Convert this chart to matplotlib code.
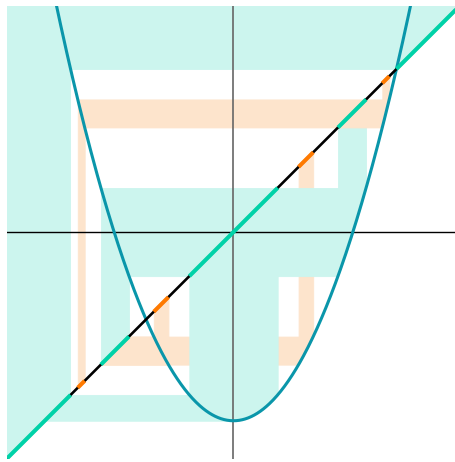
import matplotlib
matplotlib.use("Agg")
import matplotlib.pyplot as plt
import numpy as np

# map f(x) = x^2 + c and the intervals that leave [-beta, beta]
c = -2.5
view = (-3, 3)
beta = 2.158
escape_cyan = [(-0.585, 0.585), (-1.756, -1.384), (1.384, 1.756)]
escape_peach = [(-2.063, -1.971), (-1.056, -0.862), (0.862, 1.056), (1.971, 2.063)]

cyan = "#ccf5ee"
peach = "#fde4cc"
teal = "#0a96aa"
green = "#00d2a8"
orange = "#ff7a00"


def f(x):
    return x ** 2 + c


def vertical_leg(ax, a, b, color, z):
    xs = np.linspace(a, b, 300)
    ax.fill_between(xs, xs, f(xs), color=color, lw=0.6, zorder=z)


def horizontal_leg(ax, a, b, color, z):
    # from graph back to the diagonal, y runs over f([a, b])
    ends = [f(a), f(b)]
    lo = c if a < 0 < b else min(ends)
    hi = max(ends)
    ys = np.linspace(lo, min(hi, view[1]), 300)
    side = 1 if b > 0 else -1
    ax.fill_betweenx(ys, ys, side * np.sqrt(ys - c), color=color, lw=0.6, zorder=z)


fig = plt.figure(figsize=(4.56, 4.62), dpi=100)
ax = fig.add_axes([7 / 456, 3.5 / 462, 453 / 456, 453 / 462])
ax.set_xlim(*view)
ax.set_ylim(*view)
ax.axis("off")

# level-2 vertical legs sit under the peach
for a, b in escape_cyan[1:]:
    vertical_leg(ax, a, b, cyan, 1)

for a, b in escape_peach:
    vertical_leg(ax, a, b, peach, 2)
    horizontal_leg(ax, a, b, peach, 2)

for a, b in escape_cyan[1:]:
    horizontal_leg(ax, a, b, cyan, 3)
vertical_leg(ax, *escape_cyan[0], cyan, 3)
horizontal_leg(ax, *escape_cyan[0], cyan, 3)

# points that leave at once
vertical_leg(ax, view[0], -beta, cyan, 3)
vertical_leg(ax, beta, view[1], cyan, 3)
ys = np.linspace(beta, view[1], 200)
ax.fill_betweenx(ys, -np.sqrt(ys - c), ys, color=cyan, lw=0.6, zorder=3)

ax.axhline(0, color="black", lw=1, zorder=4)
ax.axvline(0, color="#666666", lw=1.2, zorder=4)

xs = np.linspace(view[0], view[1], 600)
ax.plot(xs, f(xs), color=teal, lw=2.2, zorder=5)

ax.plot(view, view, color="black", lw=1.9, zorder=6, solid_capstyle="butt")
for a, b in [(view[0], -beta)] + escape_cyan + [(beta, view[1])]:
    ax.plot([a, b], [a, b], color=green, lw=2.9, zorder=7, solid_capstyle="butt")
for a, b in escape_peach:
    ax.plot([a, b], [a, b], color=orange, lw=2.9, zorder=7, solid_capstyle="butt")

fig.savefig("out.png", dpi=100)
